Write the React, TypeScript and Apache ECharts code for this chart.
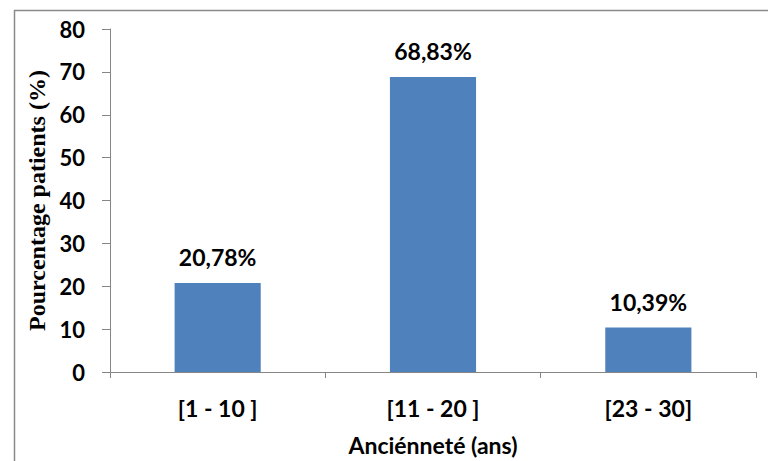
import React, { useEffect, useRef } from "react";
import * as echarts from "echarts";

const categories = ["[1 - 10 ]", "[11 - 20 ]", "[23 - 30]"];
const percentages = [20.78, 68.83, 10.39];
const yTicks = { min: 0, max: 80, interval: 10 };

const sansBold = "Lato, 'Open Sans', sans-serif";
const axisGray = "#868686";

export default function App() {
  const ref = useRef<HTMLDivElement>(null);

  useEffect(() => {
    if (!ref.current) return;
    const chart = echarts.init(ref.current, null, { renderer: "svg" });
    chart.setOption({
      animation: false,
      backgroundColor: "#ffffff",
      graphic: [
        {
          type: "rect",
          left: 12,
          top: 8,
          shape: { x: 0, y: 0, width: 800, height: 500 },
          style: { fill: "none", stroke: "#8a8a8a", lineWidth: 1.5 },
          silent: true,
          z: -1,
        },
      ],
      grid: { left: 110, width: 646, top: 29, height: 349 },
      xAxis: {
        type: "category",
        data: categories,
        axisLine: { lineStyle: { color: axisGray, width: 1 } },
        axisTick: { show: true, length: 6, lineStyle: { color: axisGray } },
        axisLabel: {
          color: "#000",
          fontFamily: sansBold,
          fontWeight: "bold",
          fontSize: 23,
          margin: 24,
        },
        name: "Anciénneté (ans)",
        nameLocation: "middle",
        nameGap: 61,
        nameTextStyle: {
          color: "#000",
          fontFamily: sansBold,
          fontWeight: "bold",
          fontSize: 23,
        },
      },
      yAxis: {
        type: "value",
        min: yTicks.min,
        max: yTicks.max,
        interval: yTicks.interval,
        splitLine: { show: false },
        axisLine: { show: true, lineStyle: { color: axisGray, width: 1 } },
        axisTick: { show: true, length: 8, lineStyle: { color: axisGray } },
        axisLabel: {
          color: "#000",
          fontFamily: sansBold,
          fontWeight: "bold",
          fontSize: 22,
          margin: 25,
        },
        name: "Pourcentage patients (%)",
        nameLocation: "middle",
        nameGap: 51,
        nameTextStyle: {
          color: "#000",
          fontFamily: "'Liberation Serif', 'DejaVu Serif', serif",
          fontWeight: "bold",
          fontSize: 24,
        },
      },
      series: [
        {
          type: "bar",
          data: percentages,
          barWidth: "40%",
          itemStyle: { color: "#4F81BD" },
          label: {
            show: true,
            position: "top",
            distance: 14,
            color: "#000",
            fontFamily: sansBold,
            fontWeight: "bold",
            fontSize: 23,
            formatter: (p: any) => `${p.value.toFixed(2).replace(".", ",")}%`,
          },
        },
      ],
    });
    return () => chart.dispose();
  }, []);

  return (
    <div
      ref={ref}
      style={{ position: "absolute", left: 0, top: 0, width: 768, height: 461 }}
    />
  );
}
